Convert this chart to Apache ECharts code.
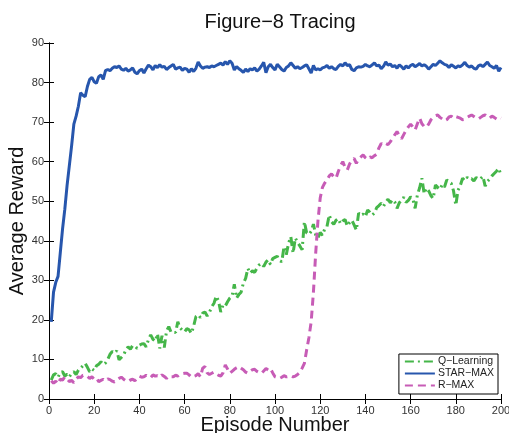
<!DOCTYPE html>
<html>
<head>
<meta charset="utf-8">
<script src="https://cdn.jsdelivr.net/npm/echarts@6/dist/echarts.min.js"></script>
<style>
  html, body { margin: 0; padding: 0; background: #fff; }
  #chart { width: 509px; height: 433px; }
</style>
</head>
<body>
<div id="chart"></div>
<script>
// average reward per episode (episodes 1..200)
var starMax = [
  19.5, 27, 29.5, 31, 37, 43, 48, 54, 59, 64,
  69.5, 71.5, 74, 77.4, 76.8, 76.4, 79, 80.8, 81.3, 80.2,
  79.8, 81.5, 81.9, 80.8, 83, 83.3, 83, 83.6, 84, 83.8,
  84.2, 83.4, 83.1, 83.6, 82.9, 83.2, 83.7, 82.6, 82.2, 83.0,
  83.4, 82.4, 83.5, 84.4, 84.0, 83.2, 84.3, 83.8, 84.5, 83.9,
  84.1, 83.3, 83.8, 84.2, 84.6, 83.4, 83.7, 83.9, 83.1, 83.6,
  83.4, 82.6, 83.5, 82.8, 83.6, 85.2, 84.2, 83.6, 83.9, 84.0,
  83.8, 84.2, 84.0, 84.3, 84.6, 84.9, 84.4, 85.3, 84.6, 85.5,
  84.9, 83.2, 84.0, 83.5, 83.1, 82.6, 83.4, 82.8, 83.5, 83.2,
  83.7, 82.9, 83.4, 84.2, 85.1, 82.5, 84.0, 84.6, 83.8, 83.2,
  84.6, 84.0, 83.3, 82.9, 83.8, 84.2, 85.0, 84.3, 83.6, 84.0,
  83.5, 83.8, 84.2, 84.5, 83.5, 82.4, 84.3, 83.2, 83.5, 83.2,
  83.7, 83.9, 84.3, 83.6, 84.0, 83.5, 83.3, 84.1, 84.6, 84.2,
  85.0, 84.3, 84.5, 83.3, 83.0, 83.7, 84.0, 83.9, 84.1, 84.6,
  84.2, 84.0, 84.5, 85.0, 84.2, 84.4, 83.5, 84.1, 85.2, 84.4,
  84.7, 84.0, 84.3, 83.6, 84.5, 84.0, 83.4, 84.2, 83.7, 84.3,
  84.6, 84.0, 84.4, 84.8, 84.2, 84.5, 84.1, 83.4, 84.0, 84.6,
  84.3, 84.9, 85.5, 85.0, 84.6, 84.4, 83.8, 84.5, 84.1, 83.7,
  84.2, 84.0, 84.5, 85.1, 84.3, 83.9, 84.2, 83.6, 83.4, 84.2,
  84.5, 84.0, 84.6, 85.2, 84.3, 84.0, 83.6, 84.3, 82.9, 83.8
];
var qLearning = [
  4.8, 6.1, 6.4, 5.5, 6.7, 6.9, 5.8, 6.3, 5.6, 6.5,
  6.9, 6.2, 7.3, 7.8, 8.4, 9.0, 8.0, 6.9, 7.6, 7.2,
  8.4, 8.8, 9.4, 8.7, 9.1, 10.0, 11.3, 12.0, 11.6, 12.2,
  9.9, 10.5, 11.1, 12.4, 13.2, 12.6, 13.5, 13.4, 12.8, 13.6,
  13.9, 14.0, 13.2, 15.0, 16.2, 15.1, 14.6, 16.5, 12.8, 16.0,
  13.0, 17.2, 18.3, 16.9, 17.0, 16.8, 19.5, 18.0, 17.4, 17.0,
  17.8, 17.5, 16.6, 18.4, 20.8, 21.3, 20.6, 21.7, 22.0, 21.0,
  21.9, 23.3, 24.2, 26.0, 24.8, 22.0, 23.8, 23.5, 24.6, 25.5,
  26.0, 29.0, 25.5, 26.4, 27.0, 29.3, 30.5, 33.0, 31.8, 32.4,
  32.0, 33.1, 33.9, 34.3, 33.5, 34.6, 35.2, 34.0, 35.5, 35.8,
  36.1, 35.0, 34.7, 38.5, 36.5, 39.4, 41.0, 36.9, 40.7, 39.6,
  38.7, 37.7, 44.8, 42.0, 41.6, 42.4, 44.2, 41.5, 40.7, 42.1,
  41.4, 43.0, 43.6, 46.5, 44.8, 44.2, 45.2, 45.6, 44.3, 45.0,
  45.4, 43.7, 44.6, 45.2, 44.0, 42.7, 47.0, 46.4, 46.8, 46.1,
  47.8, 47.2, 46.5, 47.0, 48.4, 48.9, 49.5, 48.7, 49.8, 50.5,
  49.6, 50.4, 49.8, 48.2, 49.6, 50.3, 51.0, 49.7, 50.2, 51.1,
  50.6, 48.2, 51.6, 53.4, 55.8, 51.9, 53.3, 52.6, 51.4, 50.7,
  54.1, 53.5, 53.0, 54.2, 53.6, 55.4, 54.8, 54.5, 52.6, 49.0,
  52.8, 54.0, 55.8, 55.2, 56.0, 55.5, 55.7, 55.1, 56.0, 55.6,
  55.7, 56.3, 53.8, 55.0, 55.6, 56.4, 57.0, 57.6, 58.3, 56.6
];
var rMax = [
  4.6, 4.0, 4.5, 3.8, 5.0, 4.8, 5.6, 5.1, 4.4, 4.7,
  4.1, 5.0, 5.6, 5.4, 6.0, 5.9, 5.7, 5.2, 5.6, 5.0,
  5.3, 4.4, 4.7, 5.0, 4.6, 5.1, 4.9, 4.5, 4.3, 4.8,
  5.2, 5.5, 5.0, 4.6, 4.4, 4.8, 5.0, 4.6, 5.2, 5.8,
  5.5, 5.6, 6.0, 5.7, 5.4, 6.1, 5.8, 5.9, 5.5, 6.1,
  5.7, 5.2, 5.8, 5.6, 5.6, 6.0, 5.8, 6.2, 6.4, 6.5,
  6.5, 6.1, 5.5, 5.7, 5.9, 6.4, 5.6, 7.8, 8.2, 6.6,
  6.2, 6.5, 6.8, 6.3, 6.0, 5.8, 6.6, 8.6, 7.6, 6.5,
  7.0, 7.5, 7.9, 8.2, 7.8, 7.4, 6.8, 6.5, 7.0, 7.4,
  7.5, 7.0, 6.7, 6.5, 7.1, 7.7, 7.3, 7.7, 6.6, 5.6,
  5.4, 5.2, 5.5, 5.9, 5.6, 5.7, 5.9, 5.6, 5.8, 6.2,
  6.7, 7.8, 9.0, 12.4, 15.5, 19.5, 27.0, 36.8, 45.0, 50.8,
  53.5, 54.6, 55.4, 56.4, 56.9, 56.2, 55.8, 57.5, 59.0, 60.0,
  58.6, 57.9, 59.4, 60.4, 60.8, 59.6, 60.6, 61.2, 61.7, 61.0,
  60.6, 61.2, 61.0, 61.5, 61.9, 63.5, 64.6, 64.2, 64.6, 64.3,
  65.0, 65.9, 66.8, 67.6, 66.6, 65.8, 66.9, 67.9, 68.8, 69.5,
  68.8, 68.0, 69.6, 71.0, 69.6, 68.9, 68.7, 69.5, 70.6, 71.2,
  71.6, 71.8, 71.2, 70.8, 70.3, 70.6, 71.3, 71.5, 71.0, 71.4,
  71.2, 71.0, 70.6, 70.7, 71.2, 71.5, 71.8, 71.4, 71.0, 70.8,
  71.2, 71.6, 71.8, 71.3, 71.0, 71.5, 71.2, 70.8, 71.2, 71.0
];
var seriesNames = ['Q\u2212Learning', 'STAR\u2212MAX', 'R\u2212MAX'];

function pairs(vals) {
  var out = [];
  for (var i = 0; i < vals.length; i++) {
    out.push([i + 1, vals[i]]);
  }
  return out;
}

var font = 'Liberation Sans, Arial, Helvetica, sans-serif';
var axisLine = { show: true, lineStyle: { color: '#000', width: 1 } };
var tick = { show: true, inside: true, length: 5, lineStyle: { color: '#000' } };

var myChart = echarts.init(document.getElementById('chart'));
var option = {
  animation: false,
  backgroundColor: '#fff',
  title: {
    text: 'Figure\u22128 Tracing',
    left: 275,
    top: 7,
    textAlign: 'center',
    textStyle: { fontSize: 20, fontWeight: 'normal', color: '#111', fontFamily: font }
  },
  grid: { left: 49, right: 8, top: 43, bottom: 34, outerBoundsMode: 'none', containLabel: false },
  legend: {
    data: seriesNames,
    orient: 'vertical',
    right: 11,
    bottom: 39,
    itemWidth: 30,
    itemHeight: 10,
    itemGap: 1,
    padding: [2, 4, 3, 5],
    backgroundColor: '#fff',
    borderColor: '#000',
    borderWidth: 1,
    borderRadius: 0,
    itemStyle: { color: 'rgba(0,0,0,0)', borderWidth: 0, opacity: 0 },
    textStyle: { fontSize: 10.5, color: '#222', fontFamily: font, padding: [0, 0, 0, -2] }
  },
  xAxis: [{
    type: 'value', min: 0, max: 200, interval: 20,
    name: 'Episode Number', nameLocation: 'middle', nameGap: 16, nameMoveOverlap: false,
    nameTextStyle: { fontSize: 20, color: '#111', fontFamily: font },
    axisLine: axisLine, axisTick: tick, splitLine: { show: false },
    axisLabel: { color: '#333', fontSize: 11, fontFamily: font, margin: 6 }
  }, {
    type: 'value', min: 0, max: 200, interval: 20, position: 'top',
    axisLine: axisLine, axisTick: tick, axisLabel: { show: false }, splitLine: { show: false }
  }],
  yAxis: [{
    type: 'value', min: 0, max: 90, interval: 10,
    name: 'Average Reward', nameLocation: 'middle', nameGap: 22, nameMoveOverlap: false,
    nameTextStyle: { fontSize: 20, color: '#111', fontFamily: font },
    axisLine: axisLine, axisTick: tick, splitLine: { show: false },
    axisLabel: { color: '#333', fontSize: 11, fontFamily: font, margin: 5 }
  }, {
    type: 'value', min: 0, max: 90, interval: 10, position: 'right',
    axisLine: axisLine, axisTick: tick, axisLabel: { show: false }, splitLine: { show: false }
  }],
  series: [{
    name: seriesNames[0], type: 'line', data: pairs(qLearning),
    symbol: 'none', color: '#45b649',
    lineStyle: { width: 3, color: '#45b649', type: [9, 4, 2, 4] }
  }, {
    name: seriesNames[1], type: 'line', data: pairs(starMax),
    symbol: 'none', color: '#2756ad',
    lineStyle: { width: 3, color: '#2756ad', type: 'solid' }
  }, {
    name: seriesNames[2], type: 'line', data: pairs(rMax),
    symbol: 'none', color: '#c75cb6',
    lineStyle: { width: 3, color: '#c75cb6', type: [8, 5] }
  }]
};
myChart.setOption(option);
</script>
</body>
</html>
